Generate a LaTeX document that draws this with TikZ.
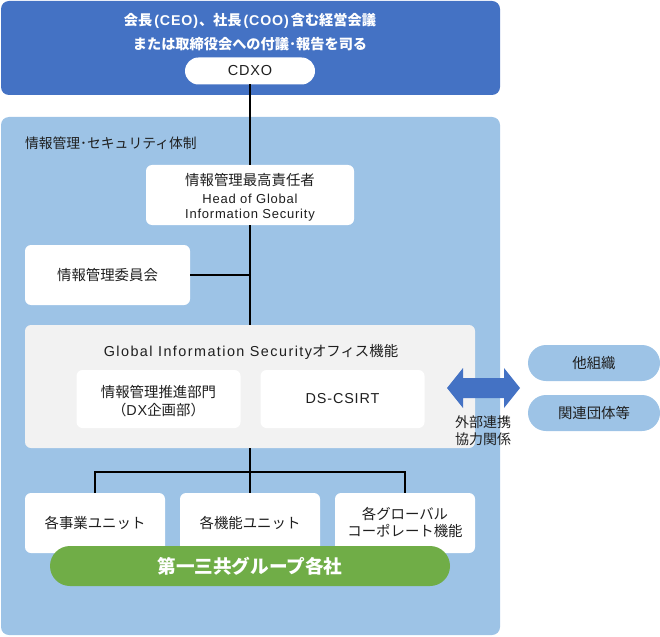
\documentclass[tikz,border=0pt]{standalone}
\usepackage{fontspec}
\setmainfont{Noto Sans CJK JP}
\newfontfamily\latfont[LetterSpace=6]{Liberation Sans}
\newfontfamily\latwide[LetterSpace=10]{Liberation Sans}
\newcommand\latx[1]{{\latfont #1}}
\begin{document}
\begin{tikzpicture}[x=1pt,y=-1pt,
  every node/.style={inner sep=0pt, outer sep=0pt, text=black!88},
  panel/.style={rectangle, rounded corners=8pt, minimum width=499pt},
  wbox/.style={fill=white, rectangle, rounded corners=6pt, align=center, font=\fontsize{14.4}{19}\selectfont},
  pill/.style={rectangle, rounded corners=18pt, fill=lblue, minimum width=132pt, minimum height=36pt, font=\fontsize{14.4}{16}\selectfont},
  conn/.style={draw=black, line width=1.4pt},
  txt/.style={font=\fontsize{14.4}{16}\selectfont}
]
\definecolor{dblue}{HTML}{4472C4}
\definecolor{lblue}{HTML}{9DC3E6}
\definecolor{lgray}{HTML}{F2F2F2}
\definecolor{gr}{HTML}{70AD47}
\useasboundingbox (0,0) rectangle (660,636);
% panels
\node[panel, fill=dblue, minimum height=94pt] (top) at (250.5,48) {};
\node[panel, fill=lblue, minimum height=518pt] (sec) at (250.5,376) {};
\node[txt, text=white, font=\fontsize{14.2}{16}\selectfont\bfseries] (t1) at (250,21) {会長\hspace{2pt}\latx{(CEO)}\hspace{1pt}、社長\hspace{2pt}\latx{(COO)}\hspace{2pt}含む経営会議};
\node[txt, text=white, font=\fontsize{14.2}{16}\selectfont\bfseries] (t2) at (250,44) {または取締役会への付議･報告を司る};
\node[fill=white, rectangle, rounded corners=13.5pt, minimum width=130pt, minimum height=27pt, font=\fontsize{14.5}{16}\selectfont] (cdxo) at (250,71) {\latx{CDXO}};
\node[txt, anchor=west, font=\fontsize{13.8}{16}\selectfont] (seclbl) at (25,143) {情報管理･セキュリティ体制};
% boxes
\node[wbox, minimum width=208pt, minimum height=60pt] (head) at (250,195) {};
\node[align=center, font=\fontsize{14.4}{19}\selectfont] (headtxt) at (250,197.5) {\raisebox{1pt}{情報管理最高責任者}\\[-2pt]{\fontsize{13}{14}\selectfont\latfont Head of Global}\\[-4pt]{\fontsize{13}{14}\selectfont\latfont Information Security}};
\node[wbox, minimum width=165pt, minimum height=60pt] (comm) at (107.5,275) {情報管理委員会};
\node[rectangle, rounded corners=6pt, fill=lgray, minimum width=450pt, minimum height=123pt] (gis) at (250,386.5) {};
\node[txt] (gislbl) at (251,352) {{\latwide Global Information Security}オフィス機能};
\node[wbox, minimum width=164pt, minimum height=58pt] (promo) at (158.5,399) {};
\node[align=center, font=\fontsize{14.4}{19}\selectfont] (promotxt) at (158.5,401.5) {情報管理推進部門\\[-1pt]（\latx{DX}企画部）};
\node[wbox, minimum width=164pt, minimum height=58pt] (csirt) at (342.5,399) {\latx{DS-CSIRT}};
% connectors
\draw[conn] (cdxo.south) -- (head.north);
\draw[conn] (head.south) -- (gis.north);
\draw[conn] (comm.east) -- (comm.east -| head.south);
\coordinate (bus) at (250,472);
% bottom boxes
\node[wbox, minimum width=140pt, minimum height=60pt] (b1) at (95,523) {\raisebox{2pt}{各事業ユニット}};
\node[wbox, minimum width=140pt, minimum height=60pt] (b2) at (250,523) {\raisebox{2pt}{各機能ユニット}};
\node[wbox, minimum width=140pt, minimum height=60pt, font=\fontsize{14.4}{17}\selectfont] (b3) at (405,523) {\raisebox{2pt}{\shortstack{各グローバル\\[0pt]コーポレート機能}}};
\draw[conn] (gis.south) -- (b2.north);
\draw[conn] (b1.north) -- (b1.north |- bus) -- (b3.north |- bus) -- (b3.north);
\node[rectangle, rounded corners=20pt, fill=gr, minimum width=400pt, minimum height=40pt, text=white, font=\fontsize{18.6}{20}\selectfont\bfseries] (grp) at (250,566) {第一三共グループ各社};
% external
\fill[dblue] (447,388) -- (463,368) -- (463,378) -- (504,378) -- (504,368) -- (520,388) -- (504,408) -- (504,398) -- (463,398) -- (463,408) -- cycle;
\node[font=\fontsize{14}{16}\selectfont] (ext1) at (483,422) {外部連携};
\node[font=\fontsize{14}{16}\selectfont] (ext2) at (483,439) {協力関係};
\node[pill] (org) at (594,363) {他組織};
\node[pill] (grpx) at (594,413) {関連団体等};
\end{tikzpicture}
\end{document}
